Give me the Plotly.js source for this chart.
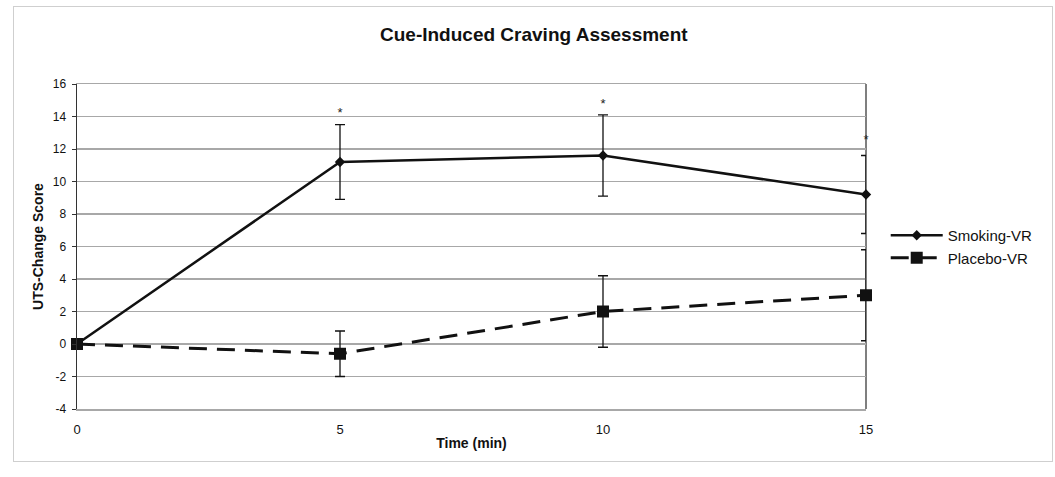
<!DOCTYPE html>
<html>
<head>
<meta charset="utf-8">
<script src="https://cdn.plot.ly/plotly-3.0.1.min.js"></script>
<style>
  html, body { margin: 0; padding: 0; background: #fff; }
  #wrap { position: relative; width: 1055px; height: 477px; }
  #chart { width: 1055px; height: 477px; }
  #frame { position: absolute; left: 13px; top: 6px; width: 1038px; height: 454px;
           border: 1px solid #cfcfcf; pointer-events: none; }
</style>
</head>
<body>
<div id="wrap">
  <div id="chart"></div>
  <div id="frame"></div>
</div>
<script>
const timeMin = [0, 5, 10, 15];
const smokingVR = [0, 11.2, 11.6, 9.2];
const smokingErr = [0, 2.3, 2.5, 2.4];
const placeboVR = [0, -0.6, 2.0, 3.0];
const placeboErr = [0, 1.4, 2.2, 2.8];
const starTimes = [5, 10, 15];
const starHeights = [14.2, 14.7, 12.5];
const yTicks = [-4, -2, 0, 2, 4, 6, 8, 10, 12, 14, 16];
const xTicks = [0, 5, 10, 15];

const FONT = 'Liberation Sans, Arial, sans-serif';

const traces = [
  {
    x: timeMin, y: smokingVR, name: 'Smoking-VR', type: 'scatter', mode: 'lines+markers',
    line: {color: '#111', width: 2.5},
    marker: {symbol: 'diamond', size: 8, color: '#111'},
    error_y: {type: 'data', array: smokingErr, visible: true, color: '#111', thickness: 1.3, width: 5},
    cliponaxis: false
  },
  {
    x: timeMin, y: placeboVR, name: 'Placebo-VR', type: 'scatter', mode: 'lines+markers',
    line: {color: '#111', width: 3, dash: '18px,10px'},
    marker: {symbol: 'square', size: 12, color: '#111'},
    error_y: {type: 'data', array: placeboErr, visible: true, color: '#111', thickness: 1.3, width: 5},
    cliponaxis: false
  },
  {
    x: starTimes, y: starHeights, type: 'scatter', mode: 'text', text: starTimes.map(() => '*'),
    textposition: 'middle center', textfont: {family: FONT, size: 13, color: '#222'},
    showlegend: false, hoverinfo: 'skip', cliponaxis: false
  }
];

const layout = {
  width: 1055, height: 477,
  margin: {l: 77, r: 189, t: 84, b: 68},
  paper_bgcolor: '#fff', plot_bgcolor: '#fff',
  font: {family: FONT, color: '#111'},
  title: {
    text: '<b>Cue-Induced Craving Assessment</b>',
    font: {family: FONT, size: 19, color: '#111'},
    x: 0.506, xref: 'container', y: 0.927, yref: 'container', yanchor: 'middle'
  },
  xaxis: {
    range: [0, 15], tickvals: xTicks, ticktext: xTicks.map(String),
    showgrid: false, zeroline: false,
    showline: true, linecolor: '#a8a8a8', linewidth: 1.5, mirror: true,
    ticks: '', tickfont: {family: FONT, size: 13, color: '#111'},
    ticklabelstandoff: 8,
    title: {text: '<b>Time (min)</b>', font: {family: FONT, size: 14, color: '#111'}, standoff: 2}
  },
  yaxis: {
    range: [-4, 16], tickvals: yTicks, ticktext: yTicks.map(String),
    showgrid: true, gridcolor: '#a8a8a8', gridwidth: 1.2, zeroline: false,
    showline: true, linecolor: '#333', linewidth: 1.5,
    ticks: 'outside', ticklen: 4, tickcolor: '#333',
    tickfont: {family: FONT, size: 12, color: '#111'},
    ticklabelstandoff: 3,
    title: {text: '<b>UTS-Change Score</b>', font: {family: FONT, size: 14, color: '#111'}, standoff: 6}
  },
  shapes: [
    {type: 'line', xref: 'paper', yref: 'paper', x0: 1, x1: 1, y0: 0, y1: 1, layer: 'below',
     line: {color: '#555', width: 1.5}}
  ],
  legend: {
    x: 1.025, xanchor: 'left', y: 0.5, yanchor: 'middle',
    font: {family: FONT, size: 15, color: '#111'},
    bgcolor: 'rgba(0,0,0,0)', tracegroupgap: 0, itemwidth: 52
  },
  showlegend: true
};

Plotly.newPlot('chart', traces, layout, {displayModeBar: false, staticPlot: true});
</script>
</body>
</html>
